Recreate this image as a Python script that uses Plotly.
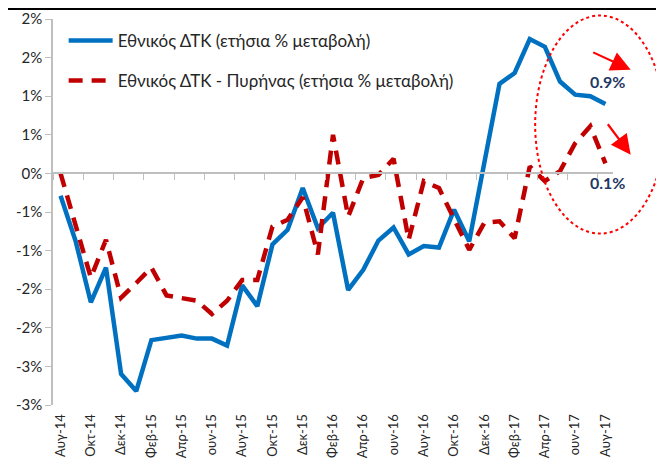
import plotly.graph_objects as go

months = ["Αυγ-14","Σεπ-14","Οκτ-14","Νοε-14","Δεκ-14","Ιαν-15","Φεβ-15","Μαρ-15","Απρ-15","Μαϊ-15","ουν-15","ουλ-15",
          "Αυγ-15","Σεπ-15","Οκτ-15","Νοε-15","Δεκ-15","Ιαν-16","Φεβ-16","Μαρ-16","Απρ-16","Μαϊ-16","ουν-16","ουλ-16",
          "Αυγ-16","Σεπ-16","Οκτ-16","Νοε-16","Δεκ-16","Ιαν-17","Φεβ-17","Μαρ-17","Απρ-17","Μαϊ-17","ουν-17","ουλ-17",
          "Αυγ-17"]

cpi = [-0.29, -0.88, -1.67, -1.22, -2.60, -2.82, -2.16, -2.13, -2.10, -2.14, -2.14, -2.23,
       -1.45, -1.72, -0.92, -0.73, -0.19, -0.71, -0.51, -1.51, -1.25, -0.87, -0.70, -1.05,
       -0.94, -0.96, -0.47, -0.88, 0.12, 1.16, 1.30, 1.74, 1.64, 1.19, 1.02, 1.00, 0.90]

core = [0.00, -0.67, -1.35, -0.86, -1.61, -1.42, -1.22, -1.58, -1.61, -1.65, -1.82, -1.65,
        -1.38, -1.38, -0.69, -0.60, -0.31, -1.05, 0.50, -0.56, -0.06, -0.02, 0.19, -0.86,
        -0.10, -0.19, -0.59, -0.99, -0.64, -0.62, -0.84, 0.09, -0.10, 0.03, 0.39, 0.61, 0.13]

ytick_vals = [2.0, 1.5, 1.0, 0.5, 0.0, -0.5, -1.0, -1.5, -2.0, -2.5, -3.0]
ytick_text = ["2%", "2%", "1%", "1%", "0%", "-1%", "-1%", "-2%", "-2%", "-3%", "-3%"]

name_cpi = "Εθνικός ΔΤΚ (ετήσια % μεταβολή)"
name_core = "Εθνικός ΔΤΚ - Πυρήνας (ετήσια % μεταβολή)"

x = list(range(len(months)))

BLUE = "#0070C0"
RED = "#C00000"
NAVY = "#1F3864"
AXIS = "#BFBFBF"
FONT = "Lato, 'Open Sans', sans-serif"

fig = go.Figure()
fig.add_trace(go.Scatter(x=x, y=cpi, mode="lines", name=name_cpi, legendgroup="a",
                         line=dict(color=BLUE, width=4.5)))
fig.add_trace(go.Scatter(x=x, y=core, mode="lines", name=name_core, legendgroup="b",
                         xaxis="x2", line=dict(color=RED, width=4.5, dash="14px,9px")))

xr = [-0.5, len(months) - 0.5]

# page body has an 8px margin, so the figure is sized to fill the rest of the window
fig.update_layout(
    width=656, height=465,
    margin=dict(l=45, r=51, t=11, b=68, autoexpand=False),
    paper_bgcolor="white", plot_bgcolor="white",
    font=dict(family=FONT, color="#262626"),
    showlegend=True,
    legend=dict(x=0.019, y=0.99, xanchor="left", yanchor="top",
                bgcolor="rgba(0,0,0,0)", font=dict(size=17, color="#262626"),
                tracegroupgap=15, itemwidth=44),
    xaxis=dict(range=xr, tickmode="array", tickvals=x[::2], ticktext=months[::2],
               tickangle=-90, showline=False, ticks="outside", ticklen=3, tickcolor="rgba(0,0,0,0)",
               showgrid=False, zeroline=False, automargin=False,
               tickfont=dict(size=13, color="#262626")),
    xaxis2=dict(range=xr, overlaying="x", anchor="free", position=0.6, side="bottom",
                tickmode="array", tickvals=[v - 0.5 for v in x[::2]], showticklabels=False,
                showline=True, linecolor=AXIS, linewidth=1.5, ticks="outside", ticklen=6,
                tickcolor=AXIS, tickwidth=1.2, showgrid=False, zeroline=False, automargin=False),
    yaxis=dict(range=[-3, 2], tickmode="array", tickvals=ytick_vals, ticktext=ytick_text,
               showline=True, linecolor=AXIS, linewidth=1.5, ticks="outside", ticklen=6,
               tickcolor=AXIS, tickwidth=1.2, showgrid=False, zeroline=False, automargin=False,
               tickfont=dict(size=15, color="#262626")),
)

# dotted ellipse highlight
fig.add_shape(type="circle", xref="paper", yref="paper",
              x0=0.861, x1=1.093, y0=0.444, y1=1.009,
              line=dict(color="#FF0000", width=2, dash="dot"))

# top border line
fig.add_shape(type="line", xref="paper", yref="paper", x0=-0.2, x1=1.2, y0=1.026, y1=1.026,
              line=dict(color="#000000", width=2))

# value labels
fig.add_annotation(x=x[-1], y=cpi[-1], xref="x", yref="y", text="<b>0.9%</b>",
                   showarrow=False, yshift=22, xshift=2,
                   font=dict(size=16, color=NAVY, family=FONT))
fig.add_annotation(x=x[-1], y=core[-1], xref="x", yref="y", text="<b>0.1%</b>",
                   showarrow=False, yshift=-19, xshift=2,
                   font=dict(size=16, color=NAVY, family=FONT))

# red arrows
fig.add_annotation(x=1.0316, y=0.8687, xref="paper", yref="paper", text="",
                   showarrow=True, ax=-39, ay=-18, arrowhead=2, arrowsize=1.8,
                   arrowwidth=2.2, arrowcolor="#FF0000")
fig.add_annotation(x=1.0316, y=0.6484, xref="paper", yref="paper", text="",
                   showarrow=True, ax=-24, ay=-32, arrowhead=2, arrowsize=1.8,
                   arrowwidth=2.2, arrowcolor="#FF0000")

fig.write_html("out.html")
